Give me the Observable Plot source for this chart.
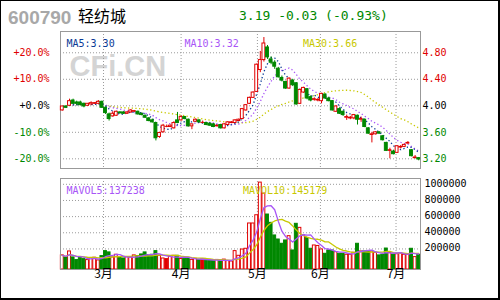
<!DOCTYPE html>
<html>
<head>
<meta charset="utf-8">
<script src="https://cdn.jsdelivr.net/npm/d3@7"></script>
<script src="https://cdn.jsdelivr.net/npm/@observablehq/plot@0.6"></script>
<style>
html,body{margin:0;padding:0;background:#fff;}
#wrap{position:relative;width:500px;height:300px;overflow:hidden;background:#fff;}
.layer{position:absolute;left:0;}
#border{position:absolute;left:0;top:0;width:500px;height:300px;box-sizing:border-box;border:1px solid #000;border-right-width:2px;border-bottom-width:2px;pointer-events:none;}
</style>
</head>
<body>
<div id="wrap">
  <svg id="hdr" class="layer" style="top:0" width="500" height="30"></svg>
  <div id="main" class="layer" style="top:0"></div>
  <div id="vol" class="layer" style="top:175px"></div>
  <div id="border"></div>
</div>
<script>
// ---------- data ----------
const stockCode = "600790";
const stockName = "轻纺城";
const open = [3.93,3.99,4.00,4.08,4.05,4.05,4.03,4.00,4.02,4.03,
4.03,4.06,3.97,3.87,3.84,3.85,3.90,3.90,3.88,3.90,
3.91,3.91,3.88,3.85,3.81,3.78,3.74,3.53,3.60,3.69,
3.68,3.66,3.78,3.78,3.83,3.79,3.69,3.76,3.78,3.75,
3.74,3.73,3.72,3.69,3.71,3.66,3.71,3.74,3.74,3.77,
3.80,3.93,4.03,4.12,4.21,4.54,4.69,4.88,4.70,4.65,
4.56,4.42,4.36,4.26,4.38,4.34,4.03,4.20,4.25,4.13,
4.09,4.08,4.07,4.17,4.11,4.07,3.91,3.95,3.91,3.82,
3.81,3.81,3.85,3.79,3.79,3.66,3.56,3.57,3.60,3.54,
3.44,3.32,3.31,3.29,3.37,3.38,3.43,3.33,3.21,3.21];
const high = [3.99,4.00,4.10,4.10,4.07,4.07,4.04,4.03,4.06,4.05,
4.08,4.07,3.98,3.89,3.91,3.92,3.91,3.91,3.91,3.94,
3.93,3.92,3.89,3.86,3.82,3.80,3.75,3.60,3.72,3.71,
3.71,3.76,3.90,3.85,3.84,3.80,3.72,3.80,3.79,3.77,
3.75,3.74,3.73,3.71,3.72,3.73,3.76,3.76,3.79,3.80,
3.96,4.02,4.13,4.21,4.63,4.82,5.03,4.91,4.74,4.68,
4.58,4.45,4.37,4.42,4.40,4.35,4.25,4.28,4.26,4.15,
4.12,4.11,4.19,4.18,4.13,4.08,4.00,3.97,3.92,3.86,
3.84,3.87,3.86,3.83,3.80,3.67,3.60,3.61,3.61,3.55,
3.45,3.36,3.33,3.40,3.40,3.42,3.46,3.34,3.25,3.22];
const low = [3.92,3.96,3.99,4.02,4.00,4.00,3.97,3.99,4.01,4.02,
4.02,3.96,3.87,3.77,3.83,3.84,3.87,3.87,3.87,3.89,
3.90,3.86,3.85,3.81,3.76,3.74,3.47,3.51,3.59,3.67,
3.67,3.65,3.73,3.77,3.79,3.68,3.64,3.75,3.74,3.73,
3.70,3.69,3.67,3.68,3.65,3.65,3.70,3.73,3.73,3.76,
3.79,3.92,4.02,4.11,4.20,4.50,4.66,4.70,4.62,4.55,
4.42,4.36,4.25,4.25,4.29,4.01,4.02,4.19,4.09,4.06,
4.07,4.06,4.03,4.10,4.06,3.92,3.90,3.87,3.84,3.78,
3.79,3.79,3.71,3.75,3.67,3.57,3.44,3.56,3.57,3.47,
3.31,3.20,3.26,3.28,3.35,3.37,3.42,3.23,3.20,3.17];
const close = [3.99,3.97,4.07,4.03,4.03,4.01,3.99,4.03,4.04,4.04,
4.06,3.97,3.89,3.80,3.88,3.91,3.89,3.88,3.90,3.93,
3.92,3.87,3.86,3.82,3.77,3.75,3.51,3.59,3.70,3.69,
3.70,3.74,3.74,3.83,3.80,3.69,3.72,3.79,3.75,3.75,
3.71,3.70,3.68,3.70,3.66,3.72,3.75,3.75,3.78,3.79,
3.95,4.01,4.12,4.20,4.62,4.69,4.94,4.73,4.65,4.59,
4.43,4.38,4.26,4.41,4.31,4.02,4.24,4.27,4.11,4.08,
4.10,4.09,4.18,4.11,4.07,3.93,3.99,3.88,3.86,3.83,
3.82,3.86,3.79,3.80,3.68,3.58,3.57,3.60,3.58,3.48,
3.32,3.33,3.27,3.39,3.38,3.41,3.44,3.24,3.22,3.19];
const volume = [120000,95000,169000,95000,62000,99000,74000,62000,86000,91000,
58000,111000,173000,157000,95000,128000,91000,82000,99000,95000,
120000,111000,132000,157000,124000,128000,173000,115000,82000,74000,
103000,115000,115000,75000,80000,90000,65000,78000,60000,70000,
66000,58000,52000,64000,56000,68000,50000,45000,173000,115000,
193000,202000,515000,515000,617000,1021000,885000,626000,523000,367000,
317000,264000,305000,358000,181000,511000,461000,367000,333000,202000,
243000,237000,194000,140000,181000,181000,160000,140000,140000,128000,
128000,153000,264000,169000,169000,160000,169000,153000,120000,128000,
205000,150000,130000,135000,145600,128000,130000,202000,99000,127190];

const basePrice = 4.00;
const priceTicks = [3.2, 3.6, 4.0, 4.4, 4.8];
const volTicks = [200000, 400000, 600000, 800000, 1000000];
const monthPos = [11.45, 33, 54.2, 71.7, 92.7];
const monthLabels = ["3月", "4月", "5月", "6月", "7月"];
const maLabels = ["MA5:3.30", "MA10:3.32", "MA30:3.66"];
const volMaLabels = ["MAVOL5:137238", "MAVOL10:145179"];

// ---------- style ----------
const red = "#e00000", green = "#008800", black = "#000000";
const ma5Color = "#0a3a96", ma10Color = "#a855f7", ma30Color = "#c8c800";
const gridColor = "#9a9a9a", frameColor = "#999999";
const mono = "DejaVu Sans Mono";
const cjk = "Noto Sans CJK SC";
const dots = {strokeWidth: 1.3, strokeDasharray: "1.3,2.4", strokeLinecap: "butt"};

const bars = close.map((c, i) => ({i, o: open[i], h: high[i], l: low[i], c, v: volume[i]}));
const up = bars.filter(d => d.c > d.o);
const down = bars.filter(d => d.c < d.o);
const flat = bars.filter(d => d.c === d.o);
const hw = 0.4;

const tickColor = d => Math.abs(d - basePrice) < 1e-9 ? black : (d > basePrice ? red : green);
const pctFmt = d => {
  const p = Math.round((d - basePrice) / basePrice * 1000) / 10;
  return (p >= 0 ? "+" : "") + p.toFixed(1) + "%";
};
const grid = {stroke: gridColor, strokeDasharray: "1,2"};

// ---------- header ----------
const last = close[close.length - 1], prev = close[close.length - 2];
const chg = last - prev;
const hdrText = `${last.toFixed(2)} ${chg.toFixed(2)} (${(chg / prev * 100).toFixed(2)}%)`;
const hdr = d3.select("#hdr");
hdr.append("text").attr("x", 8).attr("y", 24).attr("font-family", "Liberation Sans")
  .attr("font-weight", "bold").attr("font-size", 19).attr("fill", "#a8a8a8").text(stockCode);
hdr.append("text").attr("x", 78).attr("y", 21.5).attr("font-family", cjk)
  .attr("font-size", 16).attr("fill", black).text(stockName);
hdr.append("text").attr("x", 239).attr("y", 19.5).attr("font-family", mono)
  .attr("font-size", 13).attr("fill", green).text(hdrText);

// ---------- price panel ----------
const main = Plot.plot({
  width: 500, height: 175,
  marginTop: 31, marginBottom: 7, marginLeft: 60, marginRight: 80,
  x: {domain: [-0.5, 99.5], axis: null},
  y: {domain: [3.054, 5.121], axis: null},
  color: {type: "identity"},
  style: {background: "transparent", overflow: "visible"},
  marks: [
    Plot.text(["CFi.CN"], {frameAnchor: "top-left", dx: 9, dy: 44, lineAnchor: "bottom", textAnchor: "start",
      text: d => d, fontSize: 29, fontWeight: "bold", fontFamily: "Liberation Sans", fill: "#d4d4d4"}),
    Plot.ruleY(priceTicks, {y: d => d, ...grid}),
    Plot.ruleX(monthPos, {x: d => d, ...grid}),
    Plot.frame({stroke: frameColor}),
    Plot.lineY(bars, Plot.windowY({k: 30, anchor: "end"}, {x: "i", y: "c", stroke: ma30Color, ...dots})),
    Plot.lineY(bars, Plot.windowY({k: 10, anchor: "end"}, {x: "i", y: "c", stroke: ma10Color, ...dots})),
    Plot.lineY(bars, Plot.windowY({k: 5, anchor: "end"}, {x: "i", y: "c", stroke: ma5Color, ...dots})),
    Plot.ruleX(bars, {x: "i", y1: "l", y2: "h", stroke: d => d.c >= d.o ? red : green}),
    Plot.rect(up, {x1: d => d.i - hw, x2: d => d.i + hw, y1: "o", y2: "c", fill: "white", stroke: red}),
    Plot.rect(down, {x1: d => d.i - hw, x2: d => d.i + hw, y1: "o", y2: "c", fill: green, stroke: green}),
    Plot.ruleY(flat, {x1: d => d.i - 0.5, x2: d => d.i + 0.5, y: "c", stroke: red}),
    Plot.text(priceTicks, {y: d => d, frameAnchor: "left", dx: -11, textAnchor: "end", text: pctFmt,
      fill: tickColor, fontFamily: mono, fontSize: 10}),
    Plot.text(priceTicks, {y: d => d, frameAnchor: "right", dx: 2, textAnchor: "start", text: d => d.toFixed(2),
      fill: tickColor, fontFamily: mono, fontSize: 10}),
    Plot.text([maLabels[0]], {frameAnchor: "top-left", dx: 6, dy: 8, textAnchor: "start", text: d => d, fill: ma5Color, fontFamily: mono, fontSize: 10}),
    Plot.text([maLabels[1]], {frameAnchor: "top-left", dx: 124, dy: 8, textAnchor: "start", text: d => d, fill: ma10Color, fontFamily: mono, fontSize: 10}),
    Plot.text([maLabels[2]], {frameAnchor: "top-left", dx: 242.5, dy: 8, textAnchor: "start", text: d => d, fill: ma30Color, fontFamily: mono, fontSize: 10})
  ]
});
document.getElementById("main").appendChild(main);

// ---------- volume panel ----------
const volFloor = -54500;
const vol = Plot.plot({
  width: 500, height: 125,
  marginTop: 3, marginBottom: 31, marginLeft: 60, marginRight: 80,
  x: {domain: [-0.5, 99.5], axis: null},
  y: {domain: [volFloor, 1071800], axis: null},
  color: {type: "identity"},
  style: {background: "transparent", overflow: "visible"},
  marks: [
    Plot.ruleY(volTicks, {y: d => d, ...grid}),
    Plot.ruleX(monthPos, {x: d => d, ...grid}),
    Plot.rect(up, {x1: d => d.i - hw, x2: d => d.i + hw, y1: () => volFloor, y2: "v", fill: "white", stroke: red}),
    Plot.rect(down, {x1: d => d.i - hw, x2: d => d.i + hw, y1: () => volFloor, y2: "v", fill: green, stroke: green}),
    Plot.rect(flat, {x1: d => d.i - hw, x2: d => d.i + hw, y1: () => volFloor, y2: "v", fill: red, stroke: red}),
    Plot.lineY(bars, Plot.windowY({k: 10, anchor: "end"}, {x: "i", y: "v", stroke: ma30Color, strokeWidth: 1.3})),
    Plot.lineY(bars, Plot.windowY({k: 5, anchor: "end"}, {x: "i", y: "v", stroke: ma10Color, strokeWidth: 1.3})),
    Plot.frame({stroke: frameColor}),
    Plot.text(volTicks, {y: d => d, frameAnchor: "right", dx: 4, dy: -1, textAnchor: "start", text: d => String(d),
      fill: black, fontFamily: mono, fontSize: 10}),
    Plot.text(monthPos, {x: d => d, frameAnchor: "bottom", dy: 8, text: (d, i) => monthLabels[i],
      fill: black, fontFamily: cjk, fontSize: 12}),
    Plot.text([volMaLabels[0]], {frameAnchor: "top-left", dx: 6, dy: 8, textAnchor: "start", text: d => d, fill: ma10Color, fontFamily: mono, fontSize: 10}),
    Plot.text([volMaLabels[1]], {frameAnchor: "top-left", dx: 182.5, dy: 8, textAnchor: "start", text: d => d, fill: ma30Color, fontFamily: mono, fontSize: 10})
  ]
});
document.getElementById("vol").appendChild(vol);
</script>
</body>
</html>
